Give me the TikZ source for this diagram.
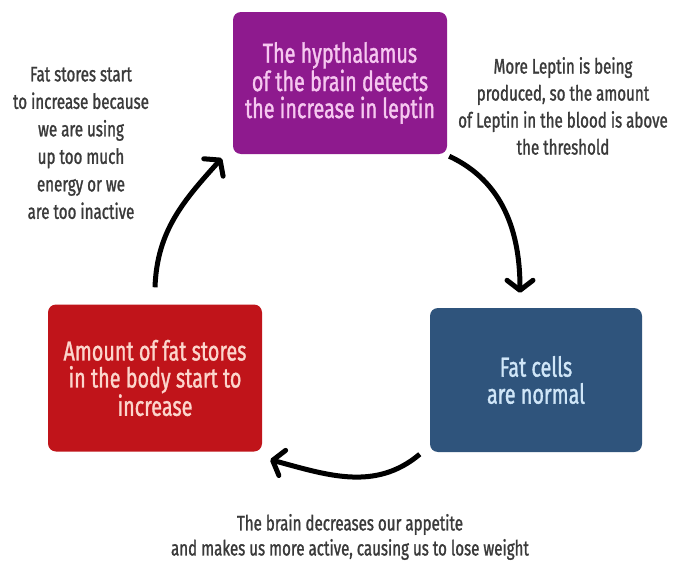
\documentclass[tikz,border=0pt]{standalone}
\usepackage{fontspec}
\setmainfont{Fira Sans}[FakeStretch=0.72, FakeBold=1.2]
\usetikzlibrary{arrows.meta}
\definecolor{cpurple}{RGB}{142,26,142}
\definecolor{cred}{RGB}{192,20,26}
\definecolor{cblue}{RGB}{47,84,124}
\definecolor{tpurple}{RGB}{246,200,240}
\definecolor{tred}{RGB}{252,214,205}
\definecolor{tblue}{RGB}{208,230,248}
\definecolor{tgray}{RGB}{58,58,58}
\tikzset{
  box/.style={rounded corners=8pt, align=center, inner sep=0pt,
    font=\fontsize{27.5}{27}\selectfont},
  note/.style={align=center, text=tgray, inner sep=0pt},
  arr/.style={line width=5pt, black,
    -{Straight Barb[length=10pt,width=26pt,line width=5pt,round]}},
}
\begin{document}
\begin{tikzpicture}[x=1pt,y=-1pt]
\useasboundingbox (0,0) rectangle (673,562);
\fill[white] (0,0) rectangle (673,562);
\node[box, fill=cpurple, text=tpurple, minimum width=214pt, minimum height=142pt]
  (purple) at (340,83) {The hypthalamus\\of the brain detects\\the increase in leptin};
\node[box, fill=cred, text=tred, minimum width=214pt, minimum height=147pt]
  (red) at (155,378) {Amount of fat stores\\in the body start to\\increase};
\node[box, fill=cblue, text=tblue, minimum width=212pt, minimum height=144pt]
  (blue) at (536,380) {Fat cells\\are normal};
\node[note, font=\fontsize{21}{27.5}\selectfont] (n1) at (81,143)
  {Fat stores start\\to increase because\\we are using\\up too much\\energy or we\\are too inactive};
\node[note, font=\fontsize{21}{27}\selectfont] (n2) at (563,106)
  {More Leptin is being\\produced, so the amount\\of Leptin in the blood is above\\the threshold};
\node[note, font=\fontsize{21}{25}\selectfont] (n3) at (350,537)
  {The brain decreases our appetite\\and makes us more active, causing us to lose weight};
\coordinate (a1s) at ([xshift=2pt,yshift=-2pt]purple.south east);
\coordinate (a1e) at ([xshift=-16pt,yshift=15pt]blue.north);
\coordinate (a2s) at ([xshift=-10pt,yshift=-2pt]blue.south west);
\coordinate (a2e) at ([xshift=8pt,yshift=-8pt]red.south east);
\coordinate (a3s) at ([yshift=17pt]red.north);
\coordinate (a3e) at ([xshift=-11pt,yshift=-4pt]purple.south west);
\draw[arr] (a1s) to[out=-25,in=90] (a1e);
\draw[arr] (a2s) to[out=220,in=-15] (a2e);
\draw[arr] (a3s) to[out=88,in=228] (a3e);
\end{tikzpicture}
\end{document}
